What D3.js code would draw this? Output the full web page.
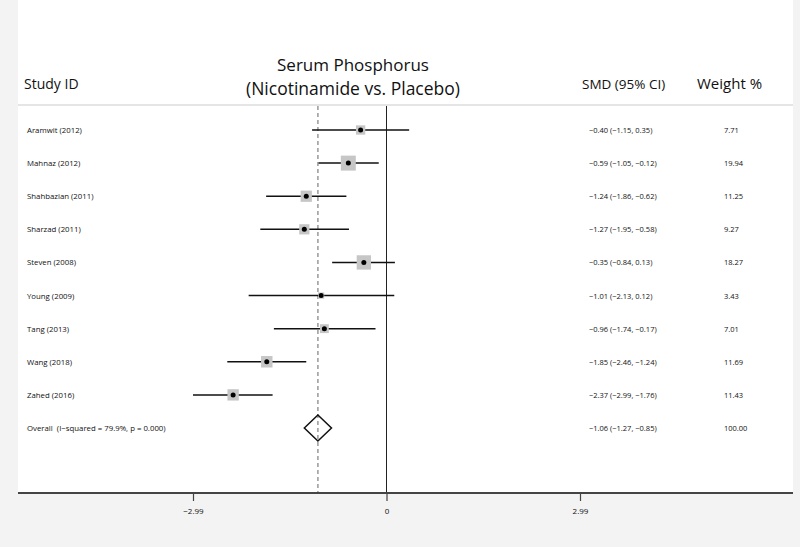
<!DOCTYPE html>
<html>
<head>
<meta charset="utf-8">
<script src="https://cdn.jsdelivr.net/npm/d3@7"></script>
<style>
  body { margin: 0; background: #f3f3f3; }
  text { font-family: "Open Sans", sans-serif; fill: #111; white-space: pre; }
</style>
</head>
<body>
<div id="chart"></div>
<script>
// study data
var studies = ['Aramwit (2012)', 'Mahnaz (2012)', 'Shahbazian (2011)', 'Sharzad (2011)',
               'Steven (2008)', 'Young (2009)', 'Tang (2013)', 'Wang (2018)', 'Zahed (2016)'];
var smd   = [-0.40, -0.59, -1.24, -1.27, -0.35, -1.01, -0.96, -1.85, -2.37];
var lower = [-1.15, -1.05, -1.86, -1.95, -0.84, -2.13, -1.74, -2.46, -2.99];
var upper = [ 0.35, -0.12, -0.62, -0.58,  0.13,  0.12, -0.17, -1.24, -1.76];
var weights = [7.71, 19.94, 11.25, 9.27, 18.27, 3.43, 7.01, 11.69, 11.43];
var overall = { label: 'Overall  (I\u2212squared = 79.9%, p = 0.000)', est: -1.06, lo: -1.27, hi: -0.85, w: 100.00 };
var ticks = [-2.99, 0, 2.99];

const width = 800;
const height = 547;

var svg = d3.select('#chart').append('svg')
    .attr('width', width)
    .attr('height', height);

// white plot panel
svg.append('rect')
    .attr('x', 18).attr('y', 0)
    .attr('width', 775).attr('height', 494)
    .attr('fill', '#fff');

var x = d3.scaleLinear()
    .domain([-2.99, 2.99])
    .range([193, 580]);

var rows = studies.map((s, i) => ({ label: s, est: smd[i], lo: lower[i], hi: upper[i], w: weights[i] }));

var y = d3.scalePoint()
    .domain(rows.map(d => d.label).concat([overall.label]))
    .range([130, 428]);

var size = d3.scaleSqrt().domain([0, 20]).range([0, 15]);

const fmt = d3.format('.2f');
const minus = s => s.replace(/-/g, '\u2212');
const ciText = d => minus(fmt(d.est) + ' (' + fmt(d.lo) + ', ' + fmt(d.hi) + ')');

// headers
svg.append('text').text('Study ID')
    .attr('x', 24).attr('y', 89).attr('font-size', 14);
svg.append('text').text('Serum Phosphorus')
    .attr('x', 353).attr('y', 71).attr('font-size', 17).attr('text-anchor', 'middle');
svg.append('text').text('(Nicotinamide vs. Placebo)')
    .attr('x', 353).attr('y', 95).attr('font-size', 17.5).attr('text-anchor', 'middle');
svg.append('text').text('SMD (95% CI)')
    .attr('x', 582).attr('y', 89).attr('font-size', 13.5);
svg.append('text').text('Weight %')
    .attr('x', 697).attr('y', 89).attr('font-size', 15);

svg.append('line')
    .attr('x1', 18).attr('x2', 793)
    .attr('y1', 105).attr('y2', 105)
    .attr('stroke', '#ddd').attr('stroke-width', 1.5);

// null line and overall dashed line
svg.append('line')
    .attr('x1', x(0)).attr('x2', x(0))
    .attr('y1', 106).attr('y2', 493)
    .attr('stroke', '#222').attr('stroke-width', 1);
svg.append('line')
    .attr('x1', x(overall.est)).attr('x2', x(overall.est))
    .attr('y1', 106).attr('y2', 493)
    .attr('stroke', '#999').attr('stroke-width', 1.5)
    .attr('stroke-dasharray', '4,3');

// confidence intervals
svg.selectAll('.ci').data(rows).enter()
    .append('line')
    .attr('class', 'ci')
    .attr('x1', d => x(d.lo)).attr('x2', d => x(d.hi))
    .attr('y1', d => y(d.label)).attr('y2', d => y(d.label))
    .attr('stroke', '#111').attr('stroke-width', 1.5);

// weight boxes
svg.selectAll('.box').data(rows).enter()
    .append('rect')
    .attr('class', 'box')
    .attr('x', d => x(d.est) - size(d.w) / 2)
    .attr('y', d => y(d.label) - size(d.w) / 2)
    .attr('width', d => size(d.w))
    .attr('height', d => size(d.w))
    .attr('fill', '#c6c6c6');

svg.selectAll('.dot').data(rows).enter()
    .append('circle')
    .attr('class', 'dot')
    .attr('cx', d => x(d.est))
    .attr('cy', d => y(d.label))
    .attr('r', 2.5)
    .attr('fill', '#000');

// overall diamond
var oy = y(overall.label);
svg.append('path')
    .attr('d', `M${x(overall.lo)},${oy} L${x(overall.est)},${oy - 13} L${x(overall.hi)},${oy} L${x(overall.est)},${oy + 13} Z`)
    .attr('fill', 'none').attr('stroke', '#111').attr('stroke-width', 1.5);

// left labels and right columns
var all = rows.concat([overall]);
svg.selectAll('.lab').data(all).enter()
    .append('text')
    .attr('class', 'lab')
    .attr('x', 27)
    .attr('y', d => y(d.label) + 3)
    .attr('font-size', 7.8)
    .text(d => d.label);

svg.selectAll('.ci-lab').data(all).enter()
    .append('text')
    .attr('class', 'ci-lab')
    .attr('x', 589)
    .attr('y', d => y(d.label) + 3)
    .attr('font-size', 7.5)
    .text(ciText);

svg.selectAll('.w-lab').data(all).enter()
    .append('text')
    .attr('class', 'w-lab')
    .attr('x', 724)
    .attr('y', d => y(d.label) + 3)
    .attr('font-size', 7.5)
    .text(d => fmt(d.w));

// x axis
svg.append('line')
    .attr('x1', 18).attr('x2', 793)
    .attr('y1', 493).attr('y2', 493)
    .attr('stroke', '#444').attr('stroke-width', 2);

var xAxis = d3.axisBottom(x)
    .tickValues(ticks)
    .tickSize(8)
    .tickFormat(d => d === 0 ? '0' : minus(fmt(d)));

var gx = svg.append('g')
    .attr('transform', 'translate(0,493)')
    .call(xAxis);
gx.select('.domain').remove();
gx.selectAll('.tick line').attr('stroke', '#444').attr('stroke-width', 1.2);
gx.selectAll('.tick text')
    .attr('font-size', 8)
    .attr('dy', '1.2em')
    .style('font-family', '"Liberation Sans Narrow", "Open Sans", sans-serif')
    .attr('fill', '#222');
</script>
</body>
</html>
